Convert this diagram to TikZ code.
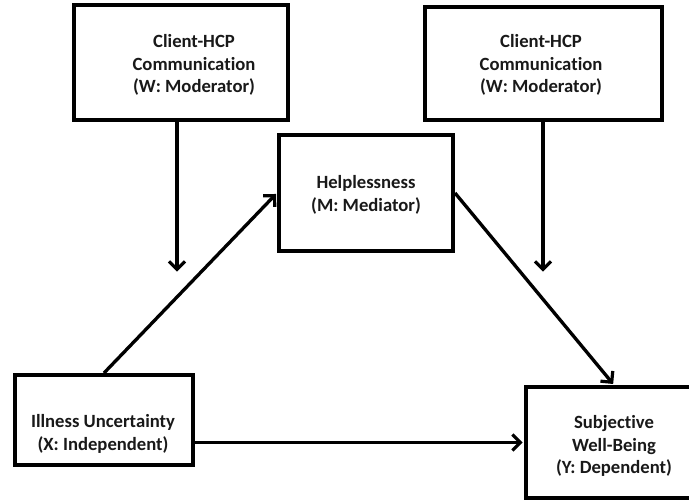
\documentclass[tikz,border=0pt]{standalone}
\usepackage{fontspec}
\setmainfont{Carlito}[Ligatures={NoCommon}]
\usetikzlibrary{arrows.meta}
\begin{document}
\begin{tikzpicture}[x=0.75pt,y=-0.75pt,
  box/.style={draw=black, line width=3pt, fill=white, inner sep=0pt},
  lbl/.style={font=\fontsize{14}{17}\selectfont\bfseries, align=center, inner sep=0pt, text=black!90},
  arr/.style={line width=2.5pt, -{Straight Barb[length=6pt,width=12pt,line width=2.4pt]}, shorten >=1pt}]
\useasboundingbox (0,0) rectangle (689,500);
\clip (0,0) rectangle (689,500);
\fill[white] (0,0) rectangle (689,500);
% boxes
\node[box, minimum width=160.5pt, minimum height=86.25pt] (tl) at (181,62.5) {};
\node[box, minimum width=177.75pt, minimum height=84.75pt] (tr) at (543.5,63.5) {};
\node[box, minimum width=130.5pt, minimum height=87pt] (help) at (366,193) {};
\node[box, minimum width=133.5pt, minimum height=67.5pt] (ill) at (104,420) {};
\node[box, minimum width=132pt, minimum height=83.25pt] (subj) at (614,442.5) {};
% labels
\node[lbl] (tltext) at (194,65) {Client-HCP\\Communication\\(W: Moderator)};
\node[lbl] (trtext) at (541,65) {Client-HCP\\Communication\\(W: Moderator)};
\node[lbl] (helptext) at (366,195) {Helplessness\\(M: Mediator)};
\node[lbl] (illtext) at (103,434) {Illness Uncertainty\\(X: Independent)};
\node[lbl] (subjtext) at (614,446) {Subjective\\Well-Being\\(Y: Dependent)};
% connectors
\coordinate (w1tip) at (177,273);
\coordinate (w2tip) at (543,273);
\draw[arr] (w1tip |- tl.south) -- (w1tip);
\draw[arr] (w2tip |- tr.south) -- (w2tip);
\draw[arr] (ill.north) -- (help.west);
\draw[arr] (help.east) -- (subj.north);
\draw[arr] (subj.west -| ill.east) -- (subj.west);
\end{tikzpicture}
\end{document}
